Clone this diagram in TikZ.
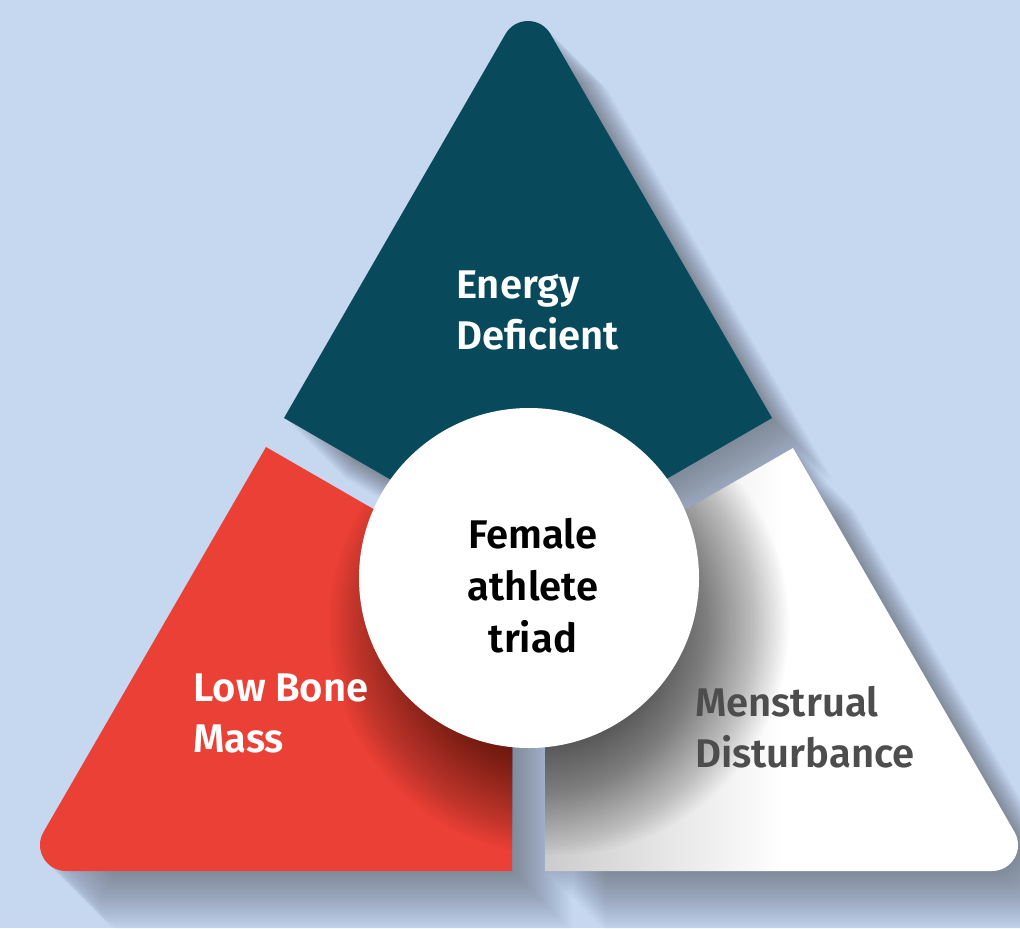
\documentclass[tikz,border=0pt]{standalone}
\usepackage{fontspec}
\setmainfont{Fira Sans}[BoldFont={Fira Sans SemiBold}]
\usetikzlibrary{calc}
\definecolor{bgblue}{RGB}{198,216,240}
\definecolor{energyteal}{RGB}{8,73,92}
\definecolor{bonered}{RGB}{235,64,53}
\definecolor{textgray}{RGB}{77,77,77}
\pgfdeclarehorizontalshading{whitefade}{100bp}{color(0bp)=(black!20); color(25bp)=(black!20); color(50bp)=(white); color(100bp)=(white)}
\def\toppiece{(284,418) -- (505.5,34) .. controls (515.5,16.7) and (540.5,16.7) .. (550.5,34) -- (772,418) -- (528,559) -- cycle}
\def\redpiece{(266,447) -- (43.5,832) .. controls (33.5,849.3) and (46,871) .. (66,871) -- (512,871) -- (512,589) -- cycle}
\def\whitepiece{(793,448) -- (1014.5,832) .. controls (1024.5,849.3) and (1012,871) .. (992,871) -- (545,871) -- (545,591) -- cycle}
\begin{document}
\begin{tikzpicture}[x=0.75pt,y=-0.75pt,
  lbl/.style={font=\fontsize{30}{38.25}\selectfont\bfseries, inner sep=0pt, align=left, anchor=base west},
  hubtext/.style={font=\fontsize{30}{39}\selectfont\bfseries, inner sep=0pt, align=center, anchor=base, text=black},
  pshadow/.style={fill=black, fill opacity=0.01},
  cshadow/.style={fill=black, fill opacity=0.014},
  hub/.style={circle, fill=white, minimum size=255pt, inner sep=0pt}]
\useasboundingbox (0,0) rectangle (1020,928);
\fill[bgblue] (0,0) rectangle (1020,928);
% soft drop shadows of the three pieces
\foreach \d in {2,4,...,60}{
  \fill[pshadow, shift={(\d,\d)}] \toppiece;
  \fill[pshadow, shift={(\d,\d)}] \redpiece;
  \fill[pshadow, shift={(\d,\d)}] \whitepiece;
}
% pieces
\fill[energyteal] \toppiece;
\fill[bonered] \redpiece;
\shade[shading=whitefade] \whitepiece;
% soft shadow of the central circle on the lower pieces
\begin{scope}
\clip \redpiece \whitepiece;
\foreach \k in {0,...,48}{
  \fill[cshadow] (559,625) circle[radius=110+2.5*\k];
}
\end{scope}
\node[hub] (hub) at (529,578) {};
% labels
\node[lbl, text=white] (energy) at (456,349) {Energy\\Deficient};
\node[lbl, text=white] (bone) at (193,752) {Low Bone\\Mass};
\node[lbl, text=textgray] (menstrual) at (695,767) {Menstrual\\Disturbance};
\node[hubtext] (triad) at (533,652) {Female\\athlete\\triad};
\end{tikzpicture}
\end{document}
